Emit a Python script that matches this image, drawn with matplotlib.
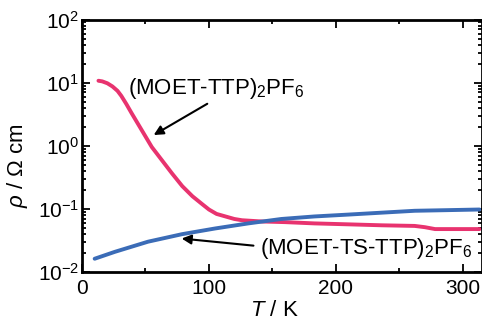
import numpy as np
import matplotlib
matplotlib.use("Agg")
import matplotlib.pyplot as plt
from matplotlib.ticker import MultipleLocator, LogLocator

plt.rcParams['font.family'] = ['Liberation Sans', 'DejaVu Sans']
plt.rcParams['mathtext.fontset'] = 'custom'
plt.rcParams['mathtext.rm'] = 'Liberation Sans'
plt.rcParams['mathtext.it'] = 'Liberation Sans:italic'

# ---------- DATA ----------
T_ttp = [13, 16, 20, 24, 28, 31, 35, 39, 47, 55, 63, 71, 79, 87, 95, 100, 106, 113, 120, 126,
         134, 142, 160, 183, 210, 236, 262, 270, 278, 295, 313]
logrho_ttp = [1.03, 1.02, 0.99, 0.94, 0.87, 0.79, 0.66, 0.52, 0.25, -0.02, -0.23, -0.44, -0.64,
              -0.80, -0.93, -1.01, -1.08, -1.12, -1.16, -1.18,
              -1.19, -1.20, -1.21, -1.23, -1.245, -1.26, -1.27, -1.29, -1.32, -1.32, -1.32]

T_ts = [10, 26, 52, 79, 105, 131, 157, 183, 210, 236, 262, 288, 313]
logrho_ts = [-1.79, -1.68, -1.52, -1.40, -1.31, -1.23, -1.16, -1.12, -1.09, -1.06, -1.03,
             -1.02, -1.01]

rho_ttp = 10 ** np.array(logrho_ttp)
rho_ts = 10 ** np.array(logrho_ts)

red = "#e8336f"
blue = "#3b6cb7"

fig = plt.figure(figsize=(4.82, 3.2), dpi=100)
ax = fig.add_axes([0.170, 0.150, 0.83, 0.789])

ax.plot(T_ttp, rho_ttp, color=red, lw=2.8, solid_capstyle="round", solid_joinstyle="round")
ax.plot(T_ts, rho_ts, color=blue, lw=2.8, solid_capstyle="round", solid_joinstyle="round")

ax.set_yscale("log")
ax.set_ylim(1e-2, 1e2)
ax.set_xlim(0, 315)
ax.xaxis.set_major_locator(MultipleLocator(100))
ax.xaxis.set_minor_locator(MultipleLocator(50))
ax.yaxis.set_major_locator(LogLocator(base=10, numticks=10))
ax.yaxis.set_minor_locator(LogLocator(base=10, subs=np.arange(2, 10), numticks=10))
ax.yaxis.set_minor_formatter(plt.NullFormatter())

for s in ax.spines.values():
    s.set_linewidth(2)
ax.tick_params(which="both", direction="in", top=True, right=True, width=1.3)
ax.tick_params(which="major", length=6, labelsize=15)
ax.tick_params(axis="x", which="major", pad=5)
ax.tick_params(axis="y", which="major", pad=2)
ax.tick_params(which="minor", length=3)

ax.set_xlabel(r"$\it{T}$ / K", fontsize=16)
ax.xaxis.set_label_coords(0.48, -0.11, transform=ax.transAxes)
ax.xaxis.label.set_va("top")
ax.set_ylabel(r"$\it{\rho}$ / Ω cm", fontsize=16)
ax.yaxis.set_label_coords(-0.13, 0.42, transform=ax.transAxes)

ax.annotate(r"(MOET-TTP)$_2$PF$_6$", xy=(56.5, 10 ** 0.17), xytext=(36.5, 10 ** 0.82),
            fontsize=16, ha="left", va="baseline",
            arrowprops=dict(arrowstyle="-|>", color="black", lw=1.5, mutation_scale=14,
                            shrinkA=0, shrinkB=0, relpos=(0.45, -0.1)))
ax.annotate(r"(MOET-TS-TTP)$_2$PF$_6$", xy=(78.5, 10 ** -1.47), xytext=(140.5, 10 ** -1.72),
            fontsize=16, ha="left", va="baseline",
            arrowprops=dict(arrowstyle="-|>", color="black", lw=1.5, mutation_scale=14,
                            shrinkA=3, shrinkB=0, relpos=(0, 0.6)))

fig.savefig("out.png", dpi=100)
